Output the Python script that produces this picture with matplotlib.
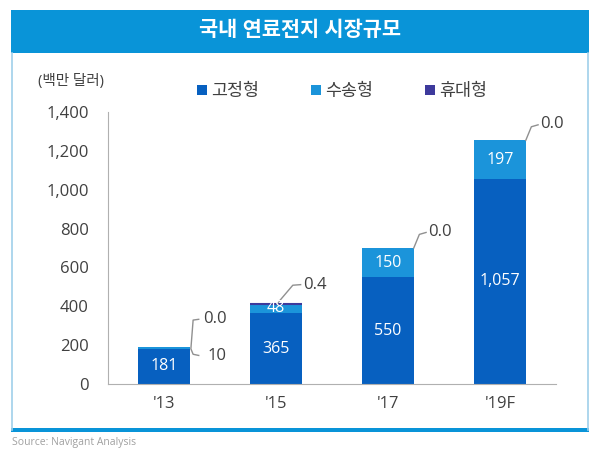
import matplotlib
matplotlib.use("Agg")
import matplotlib.pyplot as plt
from matplotlib.patches import Rectangle
from matplotlib.lines import Line2D

plt.rcParams['font.family'] = ['Open Sans', 'Noto Sans CJK KR', 'DejaVu Sans']

categories = ["'13", "'15", "'17", "'19F"]
stationary = [181, 365, 550, 1057]      # 고정형
transport = [10, 48, 150, 197]          # 수송형
portable = [0.0, 0.4, 0.0, 0.0]         # 휴대형
stationary_labels = ["181", "365", "550", "1,057"]
transport_labels = ["10", "48", "150", "197"]
portable_labels = ["0.0", "0.4", "0.0", "0.0"]
series_names = ["고정형", "수송형", "휴대형"]
yticks = [0, 200, 400, 600, 800, 1000, 1200, 1400]

c_stat = '#0760c0'
c_trans = '#1b94da'
c_port = '#3d3a9c'
title_blue = '#0994d8'
text_gray = '#404040'

W, H = 600, 458
fig = plt.figure(figsize=(6.0, 4.58), dpi=100)

def fx(px):
    return px / W

def fy(py):
    return 1 - py / H

# frame
fig.patches.append(Rectangle((fx(11), fy(53)), fx(578), 43 / H, transform=fig.transFigure,
                             facecolor=title_blue, edgecolor='none', zorder=0))
fig.add_artist(Line2D([fx(12), fx(12)], [fy(53), fy(430)], transform=fig.transFigure,
                      color='#9fd0ea', lw=1.2))
fig.add_artist(Line2D([fx(588), fx(588)], [fy(53), fy(430)], transform=fig.transFigure,
                      color='#9fd0ea', lw=1.2))
fig.patches.append(Rectangle((fx(11), fy(432)), fx(578), 4 / H, transform=fig.transFigure,
                             facecolor=title_blue, edgecolor='none', zorder=0))
fig.text(0.5, fy(31), "국내 연료전지 시장규모", color='white', fontsize=15,
         fontweight='bold', ha='center', va='center')
fig.text(fx(12), fy(442), "Source: Navigant Analysis", color='#a0a0a0', fontsize=7.5,
         ha='left', va='center')

ax = fig.add_axes([fx(108), fy(384), fx(556 - 108), (384 - 112) / H])
x = list(range(len(categories)))
bw = 0.46
b1 = ax.bar(x, stationary, width=bw, color=c_stat, label=series_names[0], zorder=2)
b2 = ax.bar(x, transport, width=bw, bottom=stationary, color=c_trans, label=series_names[1], zorder=2)
bottoms3 = [s + t for s, t in zip(stationary, transport)]
lws = [1.5 if v > 0 else 0 for v in portable]
b3 = ax.bar(x, portable, width=bw, bottom=bottoms3, color=c_port, edgecolor=c_port,
            linewidth=lws, label=series_names[2], zorder=3)

ax.set_xlim(-0.5, 3.5)
ax.set_ylim(0, 1400)
ax.set_yticks(yticks)
ax.set_yticklabels([f"{v:,}" for v in yticks])
ax.set_xticks(x)
ax.set_xticklabels(categories)
ax.tick_params(axis='both', length=0, labelsize=12, colors=text_gray)
ax.tick_params(axis='y', pad=14)
ax.tick_params(axis='x', pad=9)
for s in ['top', 'right']:
    ax.spines[s].set_visible(False)
ax.spines['left'].set_color('#b0b0b0')
ax.spines['bottom'].set_color('#b0b0b0')

# inside labels
for i in x:
    ax.text(i, stationary[i] / 2, stationary_labels[i], color='white', fontsize=11.5,
            ha='center', va='center', zorder=5)
    if i > 0:
        ax.text(i, stationary[i] + transport[i] / 2, transport_labels[i], color='white',
                fontsize=11.5, ha='center', va='center', zorder=5)

lc = '#909090'
tops = [s + t + p for s, t, p in zip(stationary, transport, portable)]
# '13: bracket with two outside labels
r0 = x[0] + bw / 2
ax.plot([r0 + 0.08, r0 + 0.03, r0 + 0.01, r0 + 0.03, r0 + 0.08],
        [tops[0] + 142, tops[0] + 138, tops[0] - 10, tops[0] - 38, tops[0] - 44],
        color=lc, lw=1, zorder=4, clip_on=False)
ax.text(r0 + 0.12, tops[0] + 142, portable_labels[0], fontsize=12, color=text_gray,
        ha='left', va='center')
ax.text(r0 + 0.16, tops[0] - 46, transport_labels[0], fontsize=12, color=text_gray,
        ha='left', va='center')
# '15
ax.plot([x[1] + 0.01, x[1] + 0.15, x[1] + 0.22],
        [tops[1], tops[1] + 95, tops[1] + 98], color=lc, lw=1, zorder=4)
ax.text(x[1] + 0.24, tops[1] + 98, portable_labels[1], fontsize=12, color=text_gray,
        ha='left', va='center')
# '17 and '19F
for i in [2, 3]:
    r = x[i] + bw / 2
    ax.plot([r, r + 0.05, r + 0.11], [tops[i], tops[i] + 70, tops[i] + 80],
            color=lc, lw=1, zorder=4, clip_on=False)
    ax.text(r + 0.13, tops[i] + 82, portable_labels[i], fontsize=12, color=text_gray,
            ha='left', va='center')

fig.text(fx(71), fy(82), "(백만 달러)", fontsize=10.5, color=text_gray, ha='center', va='center')

fig.legend(handles=[b1, b2, b3], labels=series_names, loc='center', ncol=3,
           bbox_to_anchor=(fx(342), fy(92)), frameon=False, fontsize=12.5,
           handlelength=0.55, handleheight=0.55, handletextpad=0.25, columnspacing=3.0,
           labelcolor=text_gray)

fig.savefig('out.png', dpi=100)
